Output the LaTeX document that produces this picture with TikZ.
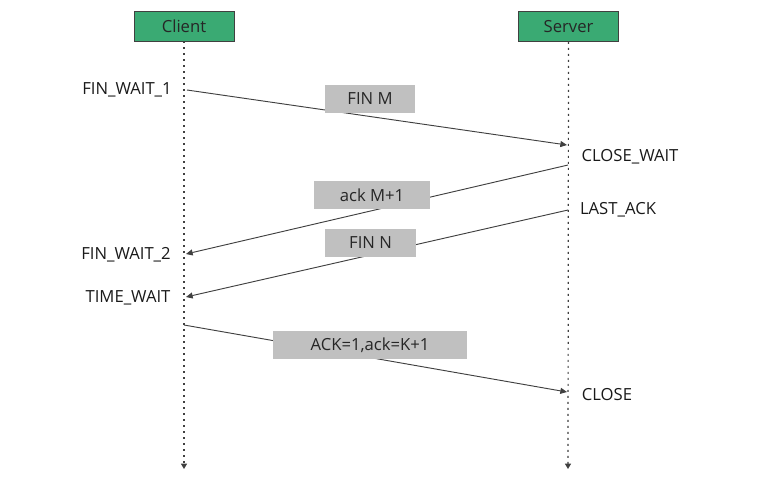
\documentclass[tikz,border=0pt]{standalone}
\usepackage{fontspec}
\setmainfont{Open Sans}
\usetikzlibrary{arrows.meta}
\definecolor{boxgreen}{RGB}{58,170,115}
\definecolor{lblgray}{RGB}{192,192,192}
\definecolor{linegray}{RGB}{64,64,64}
\begin{document}
\begin{tikzpicture}[x=0.75pt,y=-0.75pt,
  actor/.style={draw=linegray,fill=boxgreen,line width=0.6pt,minimum width=75pt,minimum height=22.5pt,inner sep=0pt,font=\fontsize{12.5}{14}\selectfont,text=black!85},
  msg/.style={fill=lblgray,inner sep=0pt,minimum height=21pt,font=\fontsize{12.5}{14}\selectfont,text=black!85},
  state/.style={inner sep=0pt,font=\fontsize{12.5}{14}\selectfont,text=black!90},
  life/.style={draw=linegray,line width=0.9pt,dash pattern=on 1.5pt off 3pt,-{Triangle[width=4.5pt,length=4pt]}},
  arr/.style={draw=linegray,line width=0.7pt,-{Triangle[width=4.5pt,length=5pt]}}]
\useasboundingbox (0,0) rectangle (760,479);
\node[actor] (client) at (184,26) {Client};
\node[actor] (server) at (568.5,26.5) {Server};
\coordinate (cend) at (184,469);
\coordinate (send) at (568,469);
\draw[life] (client.south) -- (cend);
\draw[life] (server.south) -- (send);
% states
\node[state] (fw1) at (127,90) {FIN\_WAIT\_1};
\node[state] (cw) at (630,157) {CLOSE\_WAIT};
\node[state] (la) at (618,210) {LAST\_ACK};
\node[state] (fw2) at (126,255) {FIN\_WAIT\_2};
\node[state] (tw) at (128,298) {TIME\_WAIT};
\node[state] (cl) at (607,395) {CLOSE};
% anchor coordinates
\coordinate (a1s) at (187,90);
\coordinate (a1e) at (567,145);
\coordinate (a2s) at (568,165);
\coordinate (a2e) at (186,254);
\coordinate (a3s) at (568,210);
\coordinate (a3e) at (186,297);
\coordinate (a4s) at (184,325);
\coordinate (a4e) at (567,392);
\draw[arr] (a1s) -- (a1e);
\draw[arr] (a2s) -- (a2e);
\draw[arr] (a3s) -- (a3e);
\draw[arr] (a4s) -- (a4e);
% message labels
\node[msg,minimum width=67.5pt] (m1) at (370,99) {FIN M};
\node[msg,minimum width=87pt] (m2) at (372,195) {ack M+1};
\node[msg,minimum width=68pt] (m3) at (370.5,242.5) {FIN N};
\node[msg,minimum width=145.5pt] (m4) at (370,345) {ACK=1,ack=K+1};
\end{tikzpicture}
\end{document}
